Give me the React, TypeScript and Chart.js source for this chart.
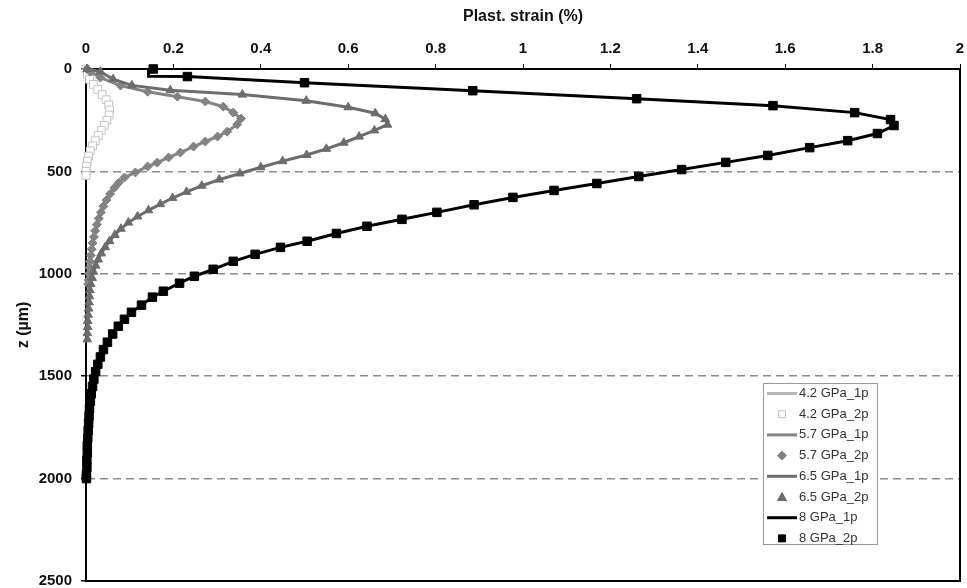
import React, { useEffect, useRef } from "react";
import { Chart, registerables } from "chart.js";
Chart.register(...registerables);

// ---- data (z in µm, plastic strain in %) ----
const z42 = [0, 25, 50, 75, 100, 125, 150, 175, 200, 225, 250, 275, 300, 325, 350, 375, 400, 425, 450, 475, 500, 520];
const e42 = [0, 0.003, 0.008, 0.017, 0.027, 0.037, 0.046, 0.052, 0.054, 0.053, 0.048, 0.042, 0.035, 0.028, 0.021, 0.015, 0.010, 0.006, 0.003, 0.001, 0, 0];

const z57 = [0, 13, 42, 81, 111, 135, 159, 184, 213, 242, 271, 306, 330, 354, 379, 408, 432, 457, 476, 505, 530, 555, 580, 610, 640, 670, 700, 730, 760, 790, 820, 850, 880, 910, 940, 970, 1000, 1030, 1050];
const e57 = [0.002, 0.010, 0.033, 0.079, 0.141, 0.209, 0.273, 0.314, 0.337, 0.355, 0.346, 0.323, 0.301, 0.273, 0.246, 0.216, 0.189, 0.163, 0.141, 0.113, 0.088, 0.075, 0.065, 0.055, 0.047, 0.040, 0.034, 0.029, 0.025, 0.021, 0.018, 0.015, 0.013, 0.011, 0.009, 0.008, 0.007, 0.006, 0.005];

const z65 = [0, 13, 50, 80, 104, 125, 155, 187, 216, 245, 272, 300, 330, 360, 390, 420, 450, 480, 510, 540, 570, 600, 630, 660, 690, 720, 750, 780, 810, 840, 870, 900, 930, 960, 990, 1020, 1050, 1080, 1110, 1140, 1170, 1200, 1230, 1260, 1290, 1320];
const e65 = [0.003, 0.033, 0.062, 0.105, 0.193, 0.358, 0.504, 0.600, 0.662, 0.685, 0.690, 0.660, 0.625, 0.590, 0.550, 0.505, 0.450, 0.400, 0.352, 0.305, 0.265, 0.230, 0.198, 0.170, 0.143, 0.118, 0.097, 0.080, 0.066, 0.054, 0.044, 0.035, 0.028, 0.022, 0.017, 0.014, 0.011, 0.009, 0.008, 0.007, 0.006, 0.005, 0.004, 0.004, 0.003, 0.003];

const z8 = [0, 37, 67, 106, 145, 179, 213, 247, 276, 315, 350, 384, 422, 456, 491, 525, 559, 593, 627, 663, 700, 734, 768, 803, 841, 871, 905, 939, 978, 1012, 1046, 1085, 1114, 1153, 1188, 1222, 1256, 1294, 1334, 1370, 1406, 1442, 1478, 1514, 1550, 1586, 1622, 1658, 1694, 1730, 1766, 1802, 1838, 1874, 1910, 1946, 1982, 2000];
const e8 = [0.154, 0.232, 0.50, 0.885, 1.26, 1.572, 1.759, 1.841, 1.849, 1.811, 1.743, 1.656, 1.56, 1.464, 1.363, 1.265, 1.169, 1.071, 0.977, 0.888, 0.803, 0.723, 0.643, 0.573, 0.506, 0.445, 0.387, 0.337, 0.291, 0.248, 0.214, 0.177, 0.152, 0.127, 0.104, 0.088, 0.074, 0.061, 0.049, 0.040, 0.033, 0.027, 0.022, 0.018, 0.015, 0.012, 0.010, 0.008, 0.007, 0.006, 0.005, 0.004, 0.003, 0.003, 0.002, 0.002, 0.001, 0.001];
// 8 GPa single-pass line: starts with a short vertical segment at the surface
const z8line = [0, 36, ...z8.slice(1)];
const e8line = [0.143, 0.143, ...e8.slice(1)];

const xTickValues = [0, 0.2, 0.4, 0.6, 0.8, 1, 1.2, 1.4, 1.6, 1.8, 2];
const yTickValues = [0, 500, 1000, 1500, 2000, 2500];

const legendItems = [
  { label: "4.2 GPa_1p", kind: "line", color: "#b8b8b8" },
  { label: "4.2 GPa_2p", kind: "rect", color: "#c4c4c4", fill: "#ffffff" },
  { label: "5.7 GPa_1p", kind: "line", color: "#858585" },
  { label: "5.7 GPa_2p", kind: "rectRot", color: "#838383", fill: "#838383" },
  { label: "6.5 GPa_1p", kind: "line", color: "#6c6c6c" },
  { label: "6.5 GPa_2p", kind: "triangle", color: "#6c6c6c", fill: "#6c6c6c" },
  { label: "8 GPa_1p", kind: "line", color: "#000000" },
  { label: "8 GPa_2p", kind: "rect", color: "#000000", fill: "#000000" },
];

const FONT = "'Liberation Sans', Arial, sans-serif";

const pts = (z: number[], e: number[]) => z.map((zz, i) => ({ x: e[i], y: zz }));

const framePlugin = {
  id: "frame",
  beforeDatasetsDraw(chart: any) {
    const { ctx, chartArea: a } = chart;
    ctx.save();
    ctx.strokeStyle = "#000";
    ctx.lineWidth = 2;
    ctx.strokeRect(a.left, a.top, a.right - a.left, a.bottom - a.top);
    ctx.restore();
  },
};

const legendPlugin = {
  id: "customLegend",
  afterDraw(chart: any) {
    const ctx = chart.ctx;
    const left = 763, top = 383, w = 114, h = 161;
    ctx.save();
    ctx.fillStyle = "#fff";
    ctx.fillRect(left, top, w, h);
    ctx.strokeStyle = "#9a9a9a";
    ctx.lineWidth = 1;
    ctx.strokeRect(left + 0.5, top + 0.5, w, h);
    ctx.font = `13px ${FONT}`;
    ctx.textBaseline = "middle";
    legendItems.forEach((it, i) => {
      const y = top + 10.5 + i * 20.7;
      if (it.kind === "line") {
        ctx.strokeStyle = it.color;
        ctx.lineWidth = 3;
        ctx.beginPath();
        ctx.moveTo(767, y);
        ctx.lineTo(797, y);
        ctx.stroke();
      } else {
        ctx.strokeStyle = it.color;
        ctx.fillStyle = it.fill;
        ctx.lineWidth = 1;
        const cx = 782;
        ctx.beginPath();
        if (it.kind === "rect") {
          ctx.rect(cx - 3.5, y - 3.5, 7, 7);
        } else if (it.kind === "rectRot") {
          ctx.moveTo(cx, y - 4.5); ctx.lineTo(cx + 4.5, y); ctx.lineTo(cx, y + 4.5); ctx.lineTo(cx - 4.5, y); ctx.closePath();
        } else {
          ctx.moveTo(cx, y - 4.5); ctx.lineTo(cx + 4.5, y + 3.5); ctx.lineTo(cx - 4.5, y + 3.5); ctx.closePath();
        }
        ctx.fill();
        ctx.stroke();
      }
      ctx.fillStyle = "#333";
      ctx.fillText(it.label, 799, y);
    });
    ctx.restore();
  },
};

export default function App() {
  const ref = useRef<HTMLCanvasElement | null>(null);
  useEffect(() => {
    if (!ref.current) return;
    const lineDs = (label: string, z: number[], e: number[], color: string, order: number) => ({
      label, data: pts(z, e), showLine: true, borderColor: color, backgroundColor: color,
      borderWidth: 3, pointRadius: 0, tension: 0, order, clip: 8,
    });
    const markDs = (label: string, z: number[], e: number[], style: string, r: number, border: string, fill: string, order: number) => ({
      label, data: pts(z, e), showLine: false, pointStyle: style, pointRadius: r,
      pointBorderColor: border, pointBackgroundColor: fill, pointBorderWidth: 1, order, clip: 8,
    });
    const chart = new Chart(ref.current, {
      type: "scatter",
      data: {
        datasets: [
          lineDs("4.2 GPa_1p", z42, e42, "#b8b8b8", 7),
          markDs("4.2 GPa_2p", z42, e42, "rect", 5.5, "#c4c4c4", "#ffffff", 6),
          lineDs("5.7 GPa_1p", z57, e57, "#858585", 5),
          markDs("5.7 GPa_2p", z57, e57, "rectRot", 4.5, "#838383", "#838383", 4),
          lineDs("6.5 GPa_1p", z65, e65, "#6c6c6c", 3),
          markDs("6.5 GPa_2p", z65, e65, "triangle", 5, "#6c6c6c", "#6c6c6c", 2),
          lineDs("8 GPa_1p", z8line, e8line, "#000000", 1),
          markDs("8 GPa_2p", z8, e8, "rect", 6, "#000000", "#000000", 0),
        ] as any,
      },
      options: {
        responsive: false,
        animation: false,
        layout: { padding: { left: 0, top: 0, right: 6, bottom: 6 } },
        plugins: { legend: { display: false }, tooltip: { enabled: false } },
        scales: {
          x: {
            type: "linear", position: "top", min: 0, max: 2,
            afterBuildTicks: (s: any) => { s.ticks = xTickValues.map((v) => ({ value: v })); },
            afterFit: (s: any) => { s.height = 69; s.paddingLeft = 0; s.paddingRight = 0; },
            ticks: {
              color: "#111", padding: 6,
              font: { family: FONT, size: 15, weight: "bold" },
              callback: (v: any) => String(Math.round(Number(v) * 10) / 10),
            },
            grid: { drawOnChartArea: false, drawTicks: true, tickLength: 5, tickColor: "#000" },
            border: { display: true, color: "#000", width: 2 },
            title: {
              display: true, text: "Plast. strain (%)", color: "#111",
              font: { family: FONT, size: 16, weight: "bold" }, padding: { top: 7, bottom: 0 },
            },
          },
          y: {
            type: "linear", reverse: true, min: 0, max: 2500,
            afterBuildTicks: (s: any) => { s.ticks = yTickValues.map((v) => ({ value: v })); },
            afterFit: (s: any) => { s.width = 86; s.paddingTop = 0; s.paddingBottom = 0; },
            ticks: {
              color: "#111", padding: 9,
              font: { family: FONT, size: 15, weight: "bold" },
              callback: (v: any) => String(v),
            },
            grid: {
              color: (c: any) => (c.tick && c.tick.value > 0 && c.tick.value < 2500 ? "#8c8c8c" : "rgba(0,0,0,0)"),
              lineWidth: 1.5, drawTicks: true, tickLength: 5, tickColor: "#000",
            },
            border: { display: true, color: "#000", width: 2, dash: [8, 5] },
            title: {
              display: true, text: "z (µm)", color: "#111",
              font: { family: FONT, size: 16, weight: "bold" }, padding: { top: 14, bottom: 0 },
            },
          },
        },
      } as any,
      plugins: [framePlugin, legendPlugin],
    });
    return () => chart.destroy();
  }, []);
  return (
    <div style={{ position: "fixed", left: 0, top: 0, width: 967, height: 588, background: "#fff" }}>
      <canvas ref={ref} width={967} height={588} style={{ display: "block", width: 967, height: 588 }} />
    </div>
  );
}
